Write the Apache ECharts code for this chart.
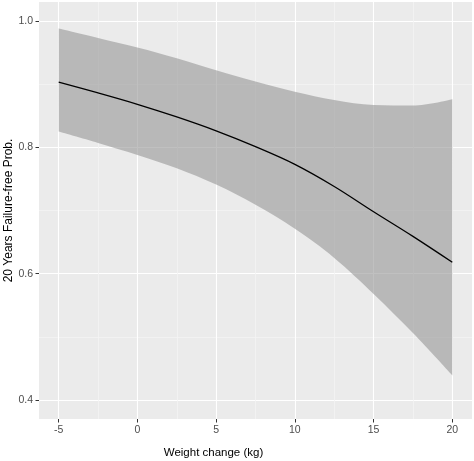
<!DOCTYPE html>
<html>
<head>
<meta charset="utf-8">
<script src="https://cdn.jsdelivr.net/npm/echarts@6/dist/echarts.min.js"></script>
<style>html,body{margin:0;padding:0;background:#fff}#c{width:474px;height:461px}</style>
</head>
<body>
<div id="c"></div>
<script>
const weightChange = [-5, -2.5, 0, 2.5, 5, 7.5, 10, 12.5, 15, 17.5, 20];
const failureFreeProb = [0.903, 0.886, 0.868, 0.848, 0.826, 0.801, 0.773, 0.738, 0.698, 0.659, 0.618];
const lowerCI = [0.825, 0.807, 0.788, 0.767, 0.741, 0.709, 0.671, 0.625, 0.568, 0.506, 0.439];
const upperCI = [0.988, 0.973, 0.958, 0.941, 0.922, 0.904, 0.888, 0.875, 0.867, 0.866, 0.876];
const xTicks = [-5, 0, 5, 10, 15, 20];
const xMinorTicks = [-2.5, 2.5, 7.5, 12.5, 17.5];
const yTicks = [0.4, 0.6, 0.8, 1.0];
const yMinorTicks = [0.5, 0.7, 0.9];

const chart = echarts.init(document.getElementById('c'), null, {renderer: 'canvas'});
const font = '"Liberation Sans", Arial, sans-serif';
const xMin = -6.25, xMax = 21.25, yMin = 0.37, yMax = 1.03;

// data in [y, x] order so the stacked dimension is y
const lowerData = weightChange.map((x, i) => [lowerCI[i], x]);
const bandData = weightChange.map((x, i) => [upperCI[i] - lowerCI[i], x]);
const mainData = weightChange.map((x, i) => [failureFreeProb[i], x]);

chart.setOption({
  animation: false,
  backgroundColor: '#ffffff',
  grid: {left: 39, right: 2, top: 2, bottom: 42, show: true, backgroundColor: '#EBEBEB', borderWidth: 0,
         containLabel: false, outerBoundsMode: 'none'},
  xAxis: [
    {
      type: 'value', min: xMin, max: xMax,
      name: 'Weight change (kg)', nameLocation: 'middle', nameGap: 28,
      nameTextStyle: {fontFamily: font, fontSize: 11.5, color: '#000', padding: [0, 84, 0, 0]},
      axisLine: {show: false, onZero: false},
      axisTick: {show: true, length: 3.5, lineStyle: {color: '#333333', width: 1}, customValues: xTicks},
      axisLabel: {customValues: xTicks, margin: 6, fontFamily: font, fontSize: 10.5, color: '#4D4D4D'},
      splitLine: {show: true, lineStyle: {color: '#FFFFFF', width: 1.1}}
    },
    {
      type: 'value', min: xMin, max: xMax, position: 'bottom',
      axisLine: {show: false, onZero: false},
      axisTick: {show: false, customValues: xMinorTicks},
      axisLabel: {show: false, customValues: xMinorTicks},
      splitLine: {show: true, lineStyle: {color: '#F4F4F4', width: 0.8}}
    }
  ],
  yAxis: [
    {
      type: 'value', min: yMin, max: yMax,
      name: '20 Years Failure-free Prob.', nameLocation: 'middle', nameGap: 24, nameMoveOverlap: false,
      nameTextStyle: {fontFamily: font, fontSize: 12, color: '#000'},
      axisLine: {show: false, onZero: false},
      axisTick: {show: true, length: 3.5, lineStyle: {color: '#333333', width: 1}, customValues: yTicks},
      axisLabel: {customValues: yTicks, margin: 6, fontFamily: font, fontSize: 10.5, color: '#4D4D4D', formatter: v => v.toFixed(1)},
      splitLine: {show: true, lineStyle: {color: '#FFFFFF', width: 1.1}}
    },
    {
      type: 'value', min: yMin, max: yMax, position: 'left',
      axisLine: {show: false, onZero: false},
      axisTick: {show: false, customValues: yMinorTicks},
      axisLabel: {show: false, customValues: yMinorTicks},
      splitLine: {show: true, lineStyle: {color: '#F4F4F4', width: 0.8}}
    }
  ],
  series: [
    {
      name: 'lower', type: 'line', stack: 'ci', data: lowerData, encode: {x: 1, y: 0},
      symbol: 'none', smooth: 0.35, lineStyle: {opacity: 0}, silent: true, z: 2
    },
    {
      name: 'band', type: 'line', stack: 'ci', data: bandData, encode: {x: 1, y: 0},
      symbol: 'none', smooth: 0.35, lineStyle: {opacity: 0},
      areaStyle: {color: 'rgba(150,150,150,0.6)', opacity: 1}, silent: true, z: 2
    },
    {
      name: 'prob', type: 'line', data: mainData, encode: {x: 1, y: 0},
      symbol: 'none', smooth: 0.35, lineStyle: {color: '#000000', width: 1.3}, z: 3
    }
  ]
});
</script>
</body>
</html>
